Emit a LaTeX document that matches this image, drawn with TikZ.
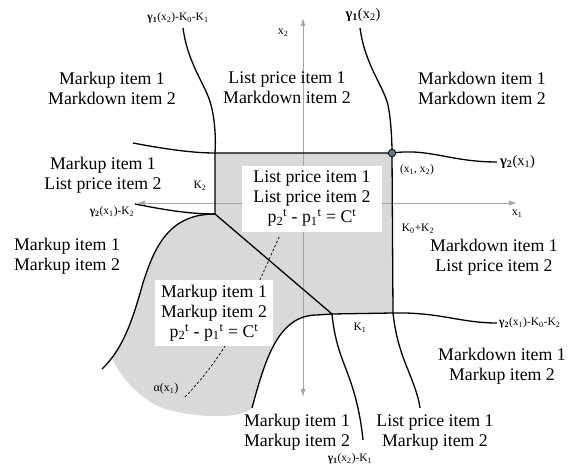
\documentclass[tikz,border=0pt]{standalone}
\usepackage{fontspec}
\setmainfont{Liberation Serif}
\usepackage{tikz}
\usetikzlibrary{arrows.meta, positioning}
\definecolor{areagray}{RGB}{217,217,217}
\definecolor{axisgray}{RGB}{165,165,165}
\definecolor{dotblue}{RGB}{95,120,140}
\tikzstyle{region} = [align=center, font=\fontsize{17.8}{20}\selectfont, inner sep=0pt]
\tikzstyle{eqbox} = [region, fill=white, inner xsep=6pt, inner ysep=5pt]
\tikzstyle{tag} = [font=\fontsize{11.5}{13}\selectfont, inner sep=1pt]
\tikzstyle{bigtag} = [font=\fontsize{14.5}{16}\selectfont, inner sep=1pt]
\tikzstyle{curve} = [line width=1.3pt, black]
\tikzstyle{axis} = [line width=0.8pt, draw=axisgray, <->, >={Latex[length=8pt,width=5pt]}]
\tikzstyle{guide} = [line width=0.7pt, dash pattern=on 2.5pt off 2pt]
\tikzstyle{pointdot} = [circle, draw=black, fill=dotblue, line width=0.8pt, inner sep=0pt, minimum size=7.5pt]
\newcommand{\gfun}[2]{\textbf{γ\textsubscript{#1}}(x\textsubscript{#2})}

\begin{document}
\begin{tikzpicture}[x=1pt, y=-1pt]

\useasboundingbox (0,0) rectangle (579,473);

% corners of the shaded set
\coordinate (xx) at (392,153);
\coordinate (tl) at (215,153);
\coordinate (kl) at (215,214);
\coordinate (kb) at (332,314);
\coordinate (br) at (393,313);
% free ends of the curves
\coordinate (e1) at (133,143);
\coordinate (e2) at (497,162);
\coordinate (e3) at (183,28);
\coordinate (e4) at (360,28);
\coordinate (e5) at (420,408);
\coordinate (e6) at (135,204);
\coordinate (e7) at (102,369);
\coordinate (e8) at (252,408);
\coordinate (e9) at (497,323);
\coordinate (e10) at (363,440);
\coordinate (ya) at (303,397);
\coordinate (yb) at (303,18);
\coordinate (xa) at (137,203);
\coordinate (xb) at (517,203);
\coordinate (aend) at (185,397);
\coordinate (atop) at (280,235);

\fill[areagray] (tl) -- (xx) -- (br) -- (kb) -- (317,315) .. controls (278,315) and (265,360) .. (e8)
  .. controls (240,420) and (190,418) .. (160,407) .. controls (135,395) and (120,375) .. (112,358)
  .. controls (122,345) and (133,318) .. (143,283) .. controls (155,245) and (170,214) .. (kl) -- cycle;

% axes
\draw[axis] (ya) -- (yb);
\draw[axis] (xa) -- (xb);
\node (x2lab) [tag, font=\fontsize{12}{14}\selectfont] at (283,33) {x\textsubscript{2}};
\node (x1lab) [tag, font=\fontsize{12}{14}\selectfont] at (517,214) {x\textsubscript{1}};

\draw[guide] (aend) .. controls (235,345) and (255,290) .. (atop);

\node (upbox) [eqbox, inner xsep=11pt] at (312,199) {List price item 1\\List price item 2\\p\textsubscript{2}\textsuperscript{t} - p\textsubscript{1}\textsuperscript{t} = C\textsuperscript{t}};
\node (lowbox) [eqbox] at (214,313) {Markup item 1\\Markup item 2\\p\textsubscript{2}\textsuperscript{t} - p\textsubscript{1}\textsuperscript{t} = C\textsuperscript{t}};

% boundaries
\draw[curve] (e1) .. controls (170,150) and (195,153) .. (tl) -- (xx) .. controls (430,148) and (450,162) .. (e2);
\draw[curve] (e3) .. controls (188,65) and (206,85) .. (211,105) .. controls (215,120) and (216,140) .. (tl);
\draw[curve] (e4) .. controls (365,65) and (383,85) .. (388,105) .. controls (391,120) and (392,140) .. (xx);
\draw[curve] (xx) -- (br) .. controls (396,340) and (402,355) .. (410,375) .. controls (416,390) and (419,400) .. (e5);
\draw[curve] (tl) -- (kl) -- (kb);
\draw[curve] (e6) .. controls (165,210) and (190,214) .. (kl);
\draw[curve] (kl) .. controls (170,214) and (155,245) .. (143,283) .. controls (133,318) and (124,348) .. (e7);
\draw[curve] (e8) .. controls (265,360) and (278,315) .. (317,315) -- (kb) -- (br) .. controls (440,312) and (460,323) .. (e9);
\draw[curve] (kb) .. controls (335,345) and (343,360) .. (350,380) .. controls (357,400) and (361,420) .. (e10);

\node (dot) [pointdot] at (xx) {};

% regions
\node (r1) [region] at (112,88) {Markup item 1\\Markdown item 2};
\node (r2) [region] at (287,88) {List price item 1\\Markdown item 2};
\node (r3) [region] at (482,88) {Markdown item 1\\Markdown item 2};
\node (r4) [region] at (103,175) {Markup item 1\\List price item 2};
\node (r5) [region] at (67,256) {Markup item 1\\Markup item 2};
\node (r6) [region] at (494,257) {Markdown item 1\\List price item 2};
\node (r7) [region] at (502,366) {Markdown item 1\\Markup item 2};
\node (r8) [region] at (435,433) {List price item 1\\Markup item 2};
\node (r9) [region] at (297,432) {Markup item 1\\Markup item 2};

% curve labels
\node (g1a) [tag] at (178,18) {\gfun{1}{2}-K\textsubscript{0}-K\textsubscript{1}};
\node (g1b) [bigtag] at (363,15) {\gfun{1}{2}};
\node (g2a) [bigtag, right=2pt of e2] {\gfun{2}{1}};
\node (g2b) [tag, right=1pt of e9] {\gfun{2}{1}-K\textsubscript{0}-K\textsubscript{2}};
\node (g2c) [tag] at (112,212) {\gfun{2}{1}-K\textsubscript{2}};
\node (g1c) [tag] at (350,459) {\gfun{1}{2}-K\textsubscript{1}};
\node (alab) [tag, font=\fontsize{12}{14}\selectfont] at (166,389) {α(x\textsubscript{1})};
\node (pxx) [tag] at (417,170) {(x\textsubscript{1}, x\textsubscript{2})};
\node (k2) [tag] at (200,186) {K\textsubscript{2}};
\node (k02) [tag] at (418,229) {K\textsubscript{0}+K\textsubscript{2}};
\node (k1) [tag] at (360,328) {K\textsubscript{1}};

\end{tikzpicture}
\end{document}
